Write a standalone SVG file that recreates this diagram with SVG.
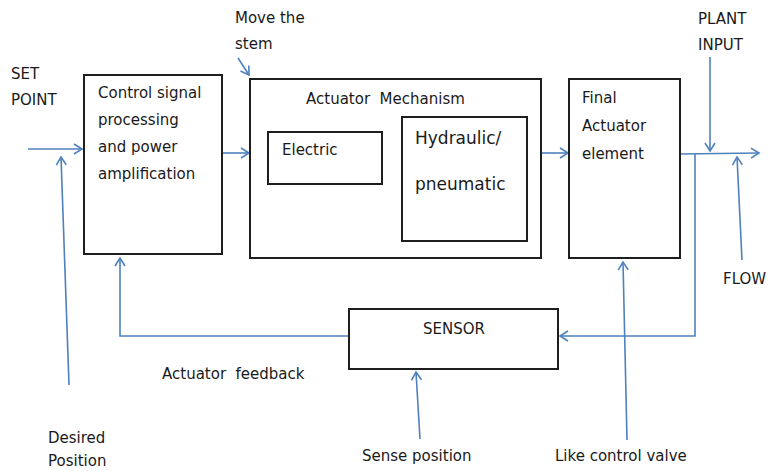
<svg xmlns="http://www.w3.org/2000/svg" width="771" height="471" viewBox="0 0 771 471">
<style>
.box{fill:#fff;stroke:#1e1e1e;stroke-width:2}
.ln{fill:none;stroke:#4f81bd;stroke-width:1.6}
.t{font-family:"DejaVu Sans","Liberation Sans",sans-serif;font-size:15px;fill:#1a1a1a;white-space:pre}
.big{font-size:17px}
</style>
<defs>
<marker id="ah" markerWidth="12" markerHeight="12" refX="10" refY="6" orient="auto" markerUnits="userSpaceOnUse">
<path d="M2,1 L10,6 L2,11" fill="none" stroke="#4f81bd" stroke-width="1.6"/>
</marker>
</defs>
<rect width="771" height="471" fill="#fff"/>
<g id="connectors">
<line class="ln" x1="28" y1="149" x2="82" y2="149" marker-end="url(#ah)"/>
<line class="ln" x1="69" y1="385" x2="61" y2="157" marker-end="url(#ah)"/>
<line class="ln" x1="222" y1="153" x2="249" y2="153" marker-end="url(#ah)"/>
<line class="ln" x1="238" y1="58" x2="249" y2="75" marker-end="url(#ah)"/>
<line class="ln" x1="382" y1="151" x2="401" y2="151" marker-end="url(#ah)"/>
<line class="ln" x1="541" y1="153" x2="568" y2="153" marker-end="url(#ah)"/>
<line class="ln" x1="680" y1="154" x2="759" y2="153" marker-end="url(#ah)"/>
<line class="ln" x1="710" y1="57" x2="710" y2="151" marker-end="url(#ah)"/>
<line class="ln" x1="742" y1="260" x2="737" y2="157" marker-end="url(#ah)"/>
<polyline class="ln" points="695,154 695,336 560,336" marker-end="url(#ah)"/>
<polyline class="ln" points="348,336 120,336 120,258" marker-end="url(#ah)"/>
<line class="ln" x1="420" y1="439" x2="416" y2="372" marker-end="url(#ah)"/>
<line class="ln" x1="627" y1="440" x2="623" y2="262" marker-end="url(#ah)"/>
</g>
<g id="control">
<rect class="box" x="84" y="75" width="138" height="179"/>
<text class="t" x="98" y="98">Control signal</text>
<text class="t" x="98" y="125">processing</text>
<text class="t" x="98" y="152">and power</text>
<text class="t" x="98" y="179">amplification</text>
</g>
<g id="actuator">
<rect class="box" x="250" y="79" width="291" height="179"/>
<text class="t" x="306" y="104" xml:space="preserve">Actuator  Mechanism</text>
</g>
<g id="electric">
<rect class="box" x="268" y="132" width="114" height="52"/>
<text class="t" x="282" y="155">Electric</text>
</g>
<g id="hydraulic">
<rect class="box" x="402" y="117" width="125" height="124"/>
<text class="t big" x="415" y="144">Hydraulic/</text>
<text class="t big" x="415" y="190">pneumatic</text>
</g>
<g id="final">
<rect class="box" x="569" y="79" width="111" height="179"/>
<text class="t" x="582" y="103">Final</text>
<text class="t" x="582" y="131">Actuator</text>
<text class="t" x="582" y="159">element</text>
</g>
<g id="sensor">
<rect class="box" x="349" y="309" width="209" height="60"/>
<text class="t" x="423" y="334">SENSOR</text>
</g>
<g id="labels">
<text class="t" x="11" y="79">SET</text>
<text class="t" x="11" y="105">POINT</text>
<text class="t" x="235" y="23">Move the</text>
<text class="t" x="235" y="49">stem</text>
<text class="t" x="698" y="24">PLANT</text>
<text class="t" x="698" y="50">INPUT</text>
<text class="t" x="723" y="284">FLOW</text>
<text class="t" x="162" y="379" xml:space="preserve">Actuator  feedback</text>
<text class="t" x="48" y="443">Desired</text>
<text class="t" x="48" y="466">Position</text>
<text class="t" x="362" y="461">Sense position</text>
<text class="t" x="555" y="461">Like control valve</text>
</g>
</svg>
